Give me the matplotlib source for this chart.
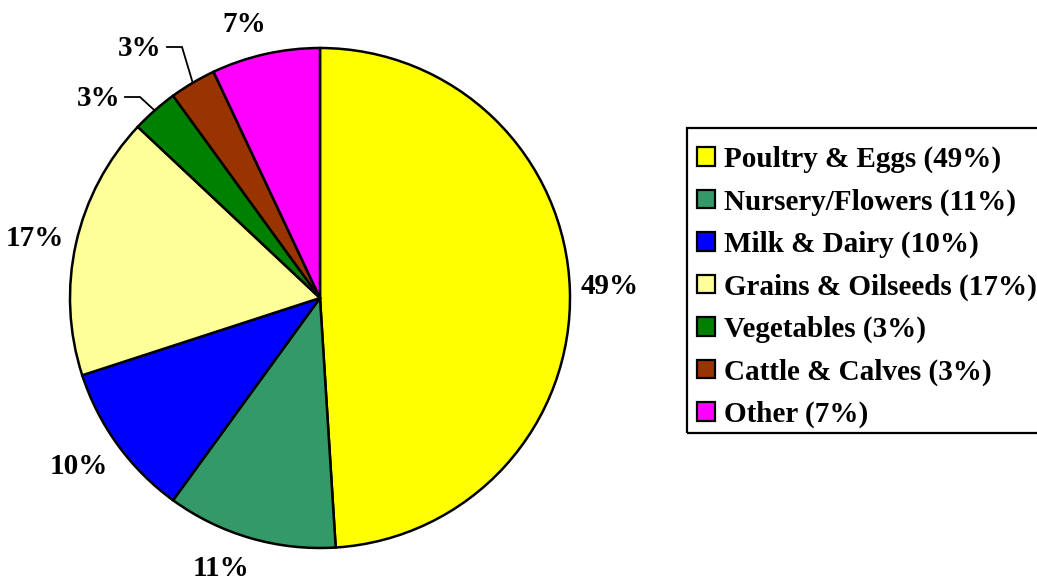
import matplotlib
matplotlib.use("Agg")
import matplotlib.pyplot as plt
from matplotlib.patches import Rectangle
import numpy as np

categories = ["Poultry & Eggs", "Nursery/Flowers", "Milk & Dairy", "Grains & Oilseeds",
              "Vegetables", "Cattle & Calves", "Other"]
values = [49, 11, 10, 17, 3, 3, 7]
colors = ["#FFFF00", "#339966", "#0000FF", "#FFFF99", "#008000", "#993300", "#FF00FF"]

plt.rcParams['font.family'] = ['Liberation Serif', 'DejaVu Serif']
plt.rcParams['font.weight'] = 'bold'

W, H = 1037, 581
fig = plt.figure(figsize=(W / 100, H / 100), dpi=100)
ax = fig.add_axes([0, 0, 1, 1])
cx, cy, R = 320, 298, 250

wedges, _ = ax.pie(values, colors=colors, startangle=90, counterclock=False,
                   radius=1, center=(0, 0), frame=True,
                   wedgeprops=dict(edgecolor='black', linewidth=1.8))
ax.set_xlim(-cx / R, (W - cx) / R)
ax.set_ylim(-(H - cy) / R, cy / R)
ax.set_aspect('auto')
ax.axis('off')

# label layout (data units, radius = 1)
label_pos = [(1.16, 0.044), (-0.396, -1.08), (-0.964, -0.676), (-1.14, 0.236),
             (-0.884, 0.80), (-0.72, 1.00), (-0.304, 1.092)]
leader = {4: ((-0.72, 0.804), (-0.78, 0.804)), 5: ((-0.552, 1.004), (-0.612, 1.004))}

for i, (w, v) in enumerate(zip(wedges, values)):
    ax.text(label_pos[i][0], label_pos[i][1], f"{v}%", ha='center', va='center',
            fontsize=21, fontweight='bold', family=['Liberation Serif'])
    if i in leader:
        ang = np.deg2rad((w.theta1 + w.theta2) / 2)
        ex, ey = np.cos(ang), np.sin(ang)
        (x1, y1), (x2, y2) = leader[i]
        ax.plot([ex, x1, x2], [ey, y1, y2], color='black', lw=1.3,
                solid_joinstyle='miter')

# legend frame (extends past the right edge, as in the reference)
ax.add_patch(Rectangle((687 / W, 1 - 433 / H), (1050 - 687) / W, (433 - 128) / H,
                       transform=fig.transFigure, facecolor='none',
                       edgecolor='black', linewidth=1.6, clip_on=False))

labels = [f"{c} ({v}%)" for c, v in zip(categories, values)]
leg = ax.legend(wedges, labels, loc='upper left',
                bbox_to_anchor=(697 / W, 1 - 146 / H), bbox_transform=fig.transFigure,
                borderaxespad=0, frameon=False,
                handlelength=0.6, handleheight=0.6, handletextpad=0.31,
                labelspacing=0.52, borderpad=0,
                prop=dict(family='Liberation Serif', weight='bold', size=21))
for h in leg.legend_handles:
    h.set_linewidth(1.6)

fig.savefig("out.png", dpi=100)
